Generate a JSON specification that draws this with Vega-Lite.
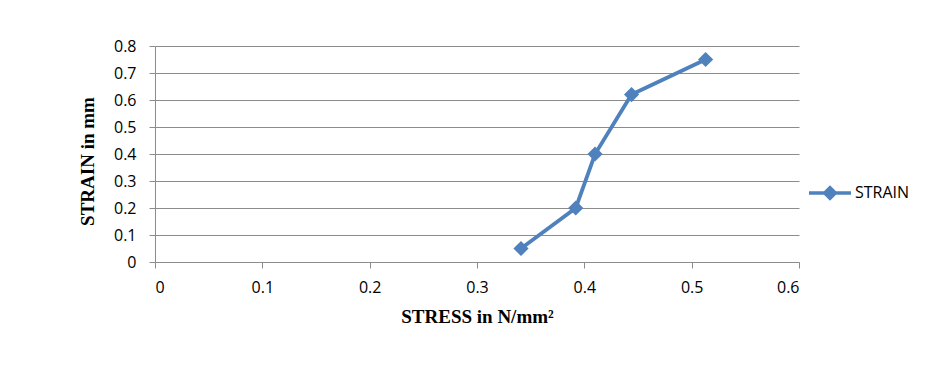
{
  "$schema": "https://vega.github.io/schema/vega-lite/v6.json",
  "width": 644,
  "height": 216,
  "autosize": {"type": "none"},
  "padding": {"left": 155, "top": 46, "right": 144, "bottom": 116},
  "background": "white",
  "config": {
    "view": {"stroke": null},
    "axis": {
      "gridColor": "#8c8c8c",
      "gridWidth": 1,
      "domainColor": "#8c8c8c",
      "tickColor": "#8c8c8c",
      "labelFont": "Open Sans",
      "labelFontSize": 16,
      "labelColor": "#000000",
      "titleFont": "Liberation Serif",
      "titleFontSize": 19,
      "titleFontWeight": "bold",
      "titleColor": "#000000"
    }
  },
  "data": {
    "values": [
      {"stress": 0.341, "strain": 0.05, "series": "STRAIN"},
      {"stress": 0.392, "strain": 0.2, "series": "STRAIN"},
      {"stress": 0.41, "strain": 0.4, "series": "STRAIN"},
      {"stress": 0.444, "strain": 0.62, "series": "STRAIN"},
      {"stress": 0.513, "strain": 0.75, "series": "STRAIN"}
    ]
  },
  "mark": {"type": "line", "strokeWidth": 3.8, "point": {"shape": "diamond", "size": 230, "filled": true, "opacity": 1}},
  "encoding": {
    "x": {
      "field": "stress", "type": "quantitative",
      "scale": {"domain": [0, 0.6], "nice": false},
      "axis": {"title": "STRESS in N/mm²", "values": [0, 0.1, 0.2, 0.3, 0.4, 0.5, 0.6], "grid": false, "tickSize": 6, "labelPadding": 11, "titlePadding": 12, "format": "~g"}
    },
    "y": {
      "field": "strain", "type": "quantitative",
      "scale": {"domain": [0, 0.8], "nice": false},
      "axis": {"title": "STRAIN in mm", "titleY": 115, "values": [0, 0.1, 0.2, 0.3, 0.4, 0.5, 0.6, 0.7, 0.8], "grid": true, "tickSize": 6, "labelPadding": 13, "titlePadding": 16, "format": "~g"}
    },
    "color": {
      "field": "series", "type": "nominal",
      "scale": {"range": ["#4F81BD"]},
      "legend": {
        "title": null,
        "orient": "none",
        "legendX": 652,
        "legendY": 124,
        "symbolType": "M-1,0L1,0M0,-0.25L0.25,0L0,0.25L-0.25,0Z",
        "symbolSize": 1764,
        "symbolStrokeWidth": 3.5,
        "symbolFillColor": "#4F81BD",
        "symbolStrokeColor": "#4F81BD",
        "labelFont": "Open Sans",
        "labelFontSize": 16,
        "labelColor": "#000000",
        "labelOffset": 2
      }
    }
  }
}
